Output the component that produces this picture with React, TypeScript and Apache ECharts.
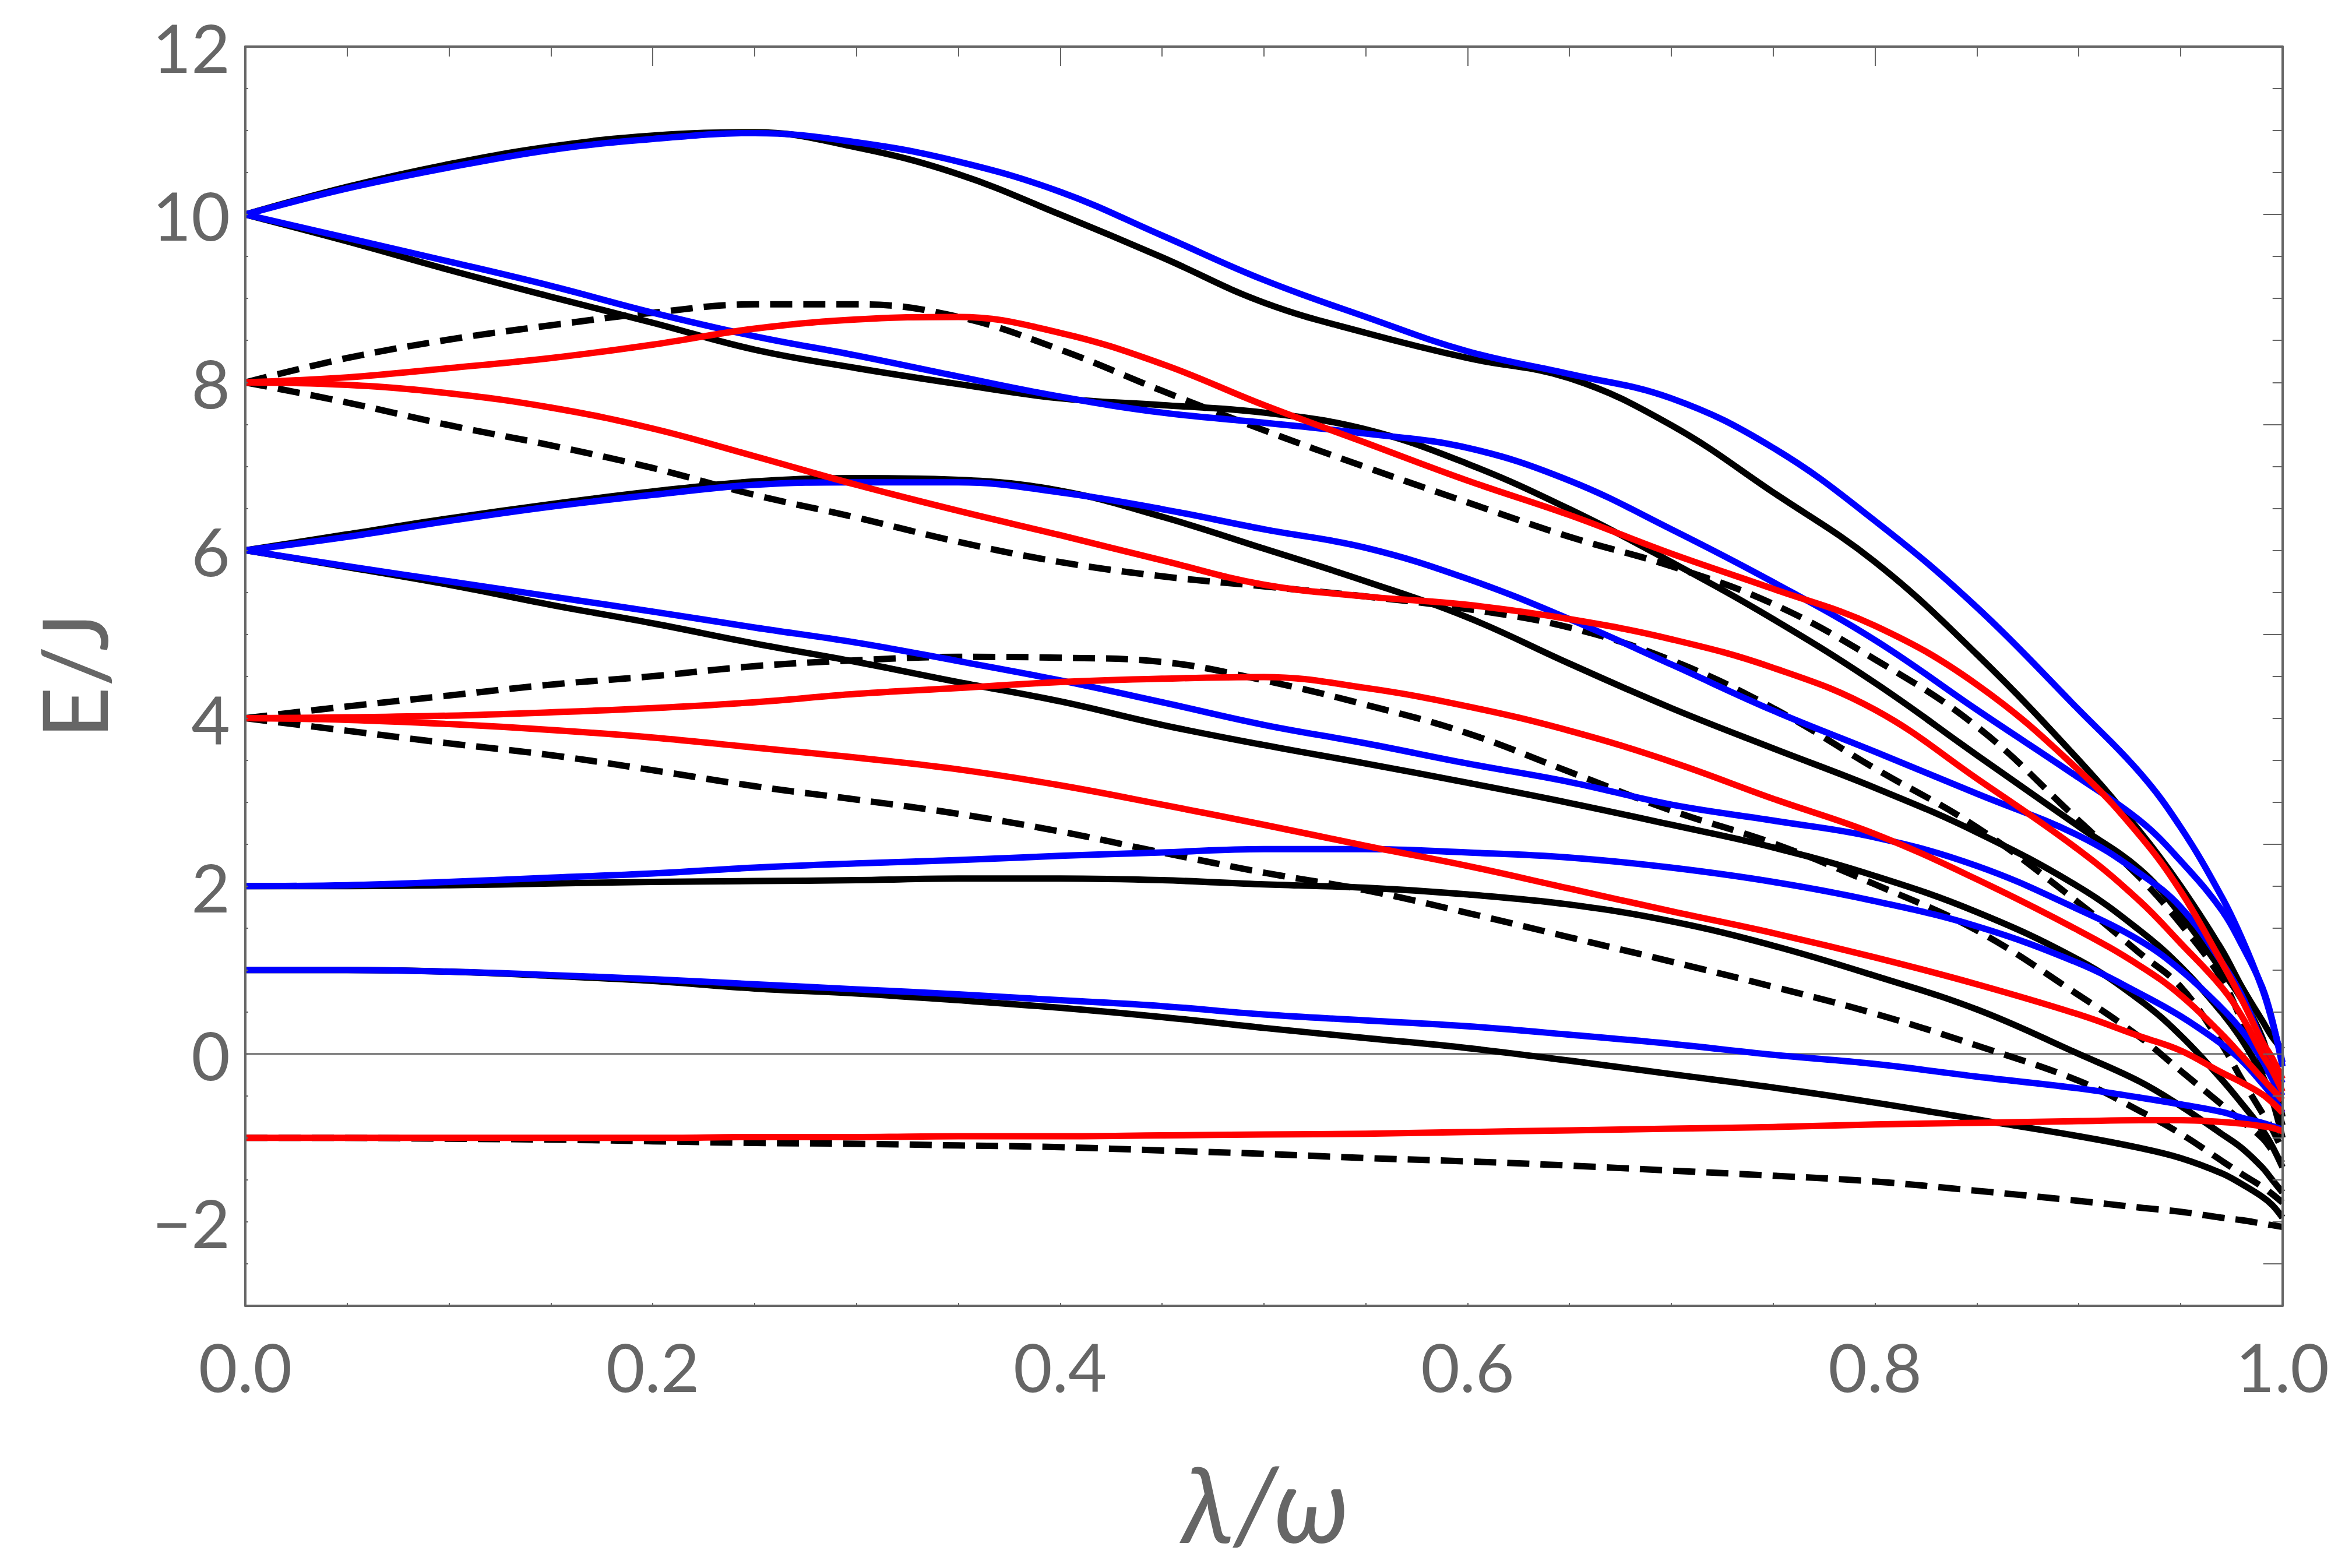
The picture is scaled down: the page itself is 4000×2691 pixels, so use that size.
import React, { useEffect, useRef } from "react";
import * as echarts from "echarts";

// λ/ω sample grid shared by every curve
const lambdaGrid = [0, 0.05, 0.1, 0.15, 0.2, 0.25, 0.3, 0.35, 0.4, 0.45, 0.5, 0.55, 0.6, 0.65, 0.7, 0.75, 0.8, 0.85, 0.9, 0.93, 0.95, 0.97, 0.98, 0.99, 0.995, 1.0];

// black solid levels
const black10u = [10, 10.33, 10.6, 10.81, 10.94, 10.98, 10.8, 10.48, 10.0, 9.49, 8.95, 8.59, 8.29, 8.05, 7.49, 6.69, 5.86, 4.76, 3.5, 2.65, 2.0, 1.25, 0.8, 0.4, 0.2, 0.05];
const black10d = [10, 9.68, 9.34, 9.02, 8.71, 8.39, 8.17, 7.98, 7.81, 7.73, 7.64, 7.44, 7.03, 6.49, 5.86, 5.18, 4.42, 3.56, 2.71, 2.2, 1.66, 1.0, 0.65, 0.2, -0.25, -0.75];
const black6u = [6, 6.19, 6.38, 6.55, 6.7, 6.82, 6.86, 6.84, 6.71, 6.4, 6.02, 5.63, 5.2, 4.65, 4.12, 3.64, 3.17, 2.64, 1.99, 1.47, 1.04, 0.5, 0.17, -0.25, -0.55, -1.0];
const black6d = [6, 5.8, 5.59, 5.35, 5.13, 4.89, 4.67, 4.43, 4.2, 3.92, 3.68, 3.46, 3.23, 2.99, 2.73, 2.46, 2.12, 1.69, 1.12, 0.64, 0.22, -0.3, -0.59, -0.9, -1.1, -1.35];
const black2 = [2, 2.0, 2.01, 2.03, 2.05, 2.06, 2.07, 2.09, 2.09, 2.07, 2.02, 1.98, 1.9, 1.78, 1.58, 1.29, 0.93, 0.53, 0.0, -0.33, -0.62, -0.95, -1.12, -1.35, -1.5, -1.65];
const black1 = [1, 1.0, 0.98, 0.93, 0.87, 0.78, 0.72, 0.64, 0.55, 0.44, 0.31, 0.19, 0.07, -0.08, -0.24, -0.4, -0.58, -0.78, -0.98, -1.12, -1.24, -1.42, -1.55, -1.7, -1.8, -1.95];

// black dashed levels
const dash8u = [8, 8.29, 8.51, 8.68, 8.83, 8.93, 8.93, 8.78, 8.39, 7.9, 7.43, 6.99, 6.57, 6.16, 5.81, 5.36, 4.7, 3.9, 2.78, 2.1, 1.55, 0.9, 0.4, -0.1, -0.45, -0.85];
const dash8d = [8, 7.76, 7.49, 7.25, 6.98, 6.66, 6.39, 6.1, 5.86, 5.69, 5.57, 5.45, 5.3, 5.08, 4.69, 4.12, 3.4, 2.7, 1.8, 1.2, 0.8, 0.12, -0.3, -0.7, -0.9, -1.15];
const dash4u = [4, 4.14, 4.27, 4.4, 4.5, 4.62, 4.69, 4.73, 4.72, 4.67, 4.45, 4.16, 3.82, 3.36, 2.9, 2.51, 2.02, 1.47, 0.7, 0.2, -0.2, -0.6, -0.8, -1.0, -1.15, -1.3];
const dash4d = [4, 3.85, 3.7, 3.56, 3.38, 3.19, 3.03, 2.86, 2.65, 2.4, 2.16, 1.95, 1.68, 1.39, 1.1, 0.8, 0.48, 0.1, -0.32, -0.68, -0.95, -1.27, -1.43, -1.58, -1.67, -1.77];
const dashM1 = [-1, -1.0, -1.01, -1.02, -1.04, -1.06, -1.07, -1.09, -1.11, -1.15, -1.19, -1.24, -1.28, -1.33, -1.39, -1.45, -1.52, -1.63, -1.75, -1.83, -1.88, -1.95, -1.98, -2.02, -2.04, -2.06];

// blue levels
const blue10u = [10, 10.31, 10.56, 10.77, 10.9, 10.97, 10.86, 10.63, 10.27, 9.75, 9.22, 8.78, 8.37, 8.1, 7.81, 7.22, 6.35, 5.32, 4.1, 3.35, 2.7, 1.88, 1.38, 0.78, 0.38, -0.1];
const blue10d = [10, 9.72, 9.44, 9.15, 8.83, 8.55, 8.32, 8.07, 7.83, 7.64, 7.52, 7.39, 7.22, 6.83, 6.25, 5.62, 4.93, 4.1, 3.29, 2.78, 2.3, 1.72, 1.3, 0.8, 0.4, -0.15];
const blue6u = [6, 6.16, 6.35, 6.52, 6.66, 6.78, 6.81, 6.81, 6.69, 6.49, 6.25, 6.03, 5.66, 5.18, 4.64, 4.09, 3.6, 3.1, 2.6, 2.15, 1.75, 1.1, 0.7, 0.15, -0.1, -0.35];
const blue6d = [6, 5.81, 5.63, 5.45, 5.27, 5.08, 4.9, 4.68, 4.45, 4.19, 3.92, 3.7, 3.46, 3.24, 2.97, 2.78, 2.58, 2.24, 1.72, 1.35, 1.0, 0.55, 0.28, -0.07, -0.3, -0.5];
const blue2 = [2, 2.01, 2.05, 2.1, 2.15, 2.22, 2.27, 2.31, 2.36, 2.4, 2.44, 2.44, 2.4, 2.34, 2.22, 2.05, 1.82, 1.52, 1.08, 0.72, 0.45, 0.12, -0.08, -0.35, -0.5, -0.7];
const blue1 = [1, 1.0, 0.98, 0.94, 0.89, 0.83, 0.77, 0.71, 0.64, 0.57, 0.47, 0.4, 0.33, 0.23, 0.12, -0.01, -0.12, -0.27, -0.41, -0.52, -0.6, -0.69, -0.76, -0.82, -0.86, -0.9];

// red levels
const red8u = [8, 8.06, 8.17, 8.29, 8.45, 8.64, 8.75, 8.78, 8.59, 8.22, 7.73, 7.28, 6.83, 6.42, 5.96, 5.54, 5.1, 4.4, 3.38, 2.6, 1.94, 1.1, 0.65, 0.15, -0.05, -0.3];
const red8d = [8, 7.97, 7.87, 7.7, 7.45, 7.12, 6.78, 6.47, 6.18, 5.88, 5.59, 5.45, 5.35, 5.18, 4.94, 4.6, 4.1, 3.28, 2.43, 1.82, 1.32, 0.8, 0.45, 0.0, -0.2, -0.45];
const red4u = [4, 4.01, 4.03, 4.07, 4.12, 4.19, 4.29, 4.36, 4.43, 4.47, 4.49, 4.36, 4.14, 3.85, 3.48, 3.04, 2.62, 2.08, 1.47, 1.05, 0.7, 0.24, -0.02, -0.29, -0.42, -0.55];
const red4d = [4, 3.98, 3.93, 3.86, 3.77, 3.65, 3.53, 3.39, 3.2, 2.97, 2.73, 2.48, 2.24, 1.97, 1.7, 1.44, 1.15, 0.83, 0.47, 0.21, 0.04, -0.22, -0.34, -0.48, -0.58, -0.7];
const redM1 = [-1, -1.0, -1.0, -1.0, -1.0, -0.99, -0.99, -0.98, -0.98, -0.97, -0.96, -0.95, -0.93, -0.91, -0.89, -0.87, -0.84, -0.82, -0.8, -0.79, -0.79, -0.81, -0.83, -0.86, -0.88, -0.92];

const blackSolidCurves = [black10u, black10d, black6u, black6d, black2, black1];
const blackDashedCurves = [dash8u, dash8d, dash4u, dash4d, dashM1];
const blueCurves = [blue10u, blue10d, blue6u, blue6d, blue2, blue1];
const redCurves = [red8u, red8d, red4u, red4d, redM1];

// axis ticks / labels
const yLabelValues = [-2, 0, 2, 4, 6, 8, 10, 12];
const rightMajorTicks = [-2.5, 0, 2.5, 5, 7.5, 10];
const zeroLine = [[0, 0], [1, 0]];

const GRAY = "#666666";
const FONT = "Lato";

function makeSeries(list: number[][], color: string, dashed: boolean) {
  return list.map((ys) => ({
    type: "line",
    data: lambdaGrid.map((x, i) => [x, ys[i]]),
    symbol: "none",
    showSymbol: false,
    smooth: 0.4,
    silent: true,
    clip: true,
    lineStyle: {
      color,
      width: 11,
      type: dashed ? [38, 19] : "solid",
      cap: "butt",
      join: "round",
    },
  }));
}

export default function App() {
  const ref = useRef<HTMLDivElement>(null);
  useEffect(() => {
    const chart = echarts.init(ref.current!, null, { renderer: "svg" });
    const tickStyle = { color: GRAY, width: 2 };
    const frameLine = { show: true, onZero: false, lineStyle: { color: GRAY, width: 4 } };
    const option: any = {
      animation: false,
      backgroundColor: "#ffffff",
      grid: { left: 421, top: 80, right: 79, bottom: 450, show: false },
      xAxis: [
        {
          type: "value", position: "bottom", min: 0, max: 1, interval: 0.2, z: 10,
          axisLine: frameLine,
          axisTick: { show: true, inside: true, length: 5, lineStyle: tickStyle },
          minorTick: { show: true, splitNumber: 4, length: 5, lineStyle: tickStyle },
          splitLine: { show: false },
          axisLabel: {
            color: GRAY, fontSize: 115, fontFamily: FONT, margin: 45,
            formatter: (v: number) => v.toFixed(1),
          },
        },
        {
          type: "value", position: "top", min: 0, max: 1, interval: 0.2, z: 10,
          axisLine: frameLine,
          axisTick: { show: true, inside: true, length: 33, lineStyle: tickStyle },
          minorTick: { show: true, splitNumber: 4, length: 17, lineStyle: tickStyle },
          splitLine: { show: false },
          axisLabel: { show: false },
        },
      ],
      yAxis: [
        {
          type: "value", position: "left", min: -3, max: 12, interval: 1, z: 10,
          axisLine: frameLine,
          axisTick: { show: true, inside: true, length: 5, lineStyle: tickStyle },
          minorTick: { show: true, splitNumber: 2, length: 5, lineStyle: tickStyle },
          splitLine: { show: false },
          axisLabel: {
            color: GRAY, fontSize: 115, fontFamily: FONT, margin: 26,
            customValues: yLabelValues,
            formatter: (v: number) =>
              Math.round(v) % 2 === 0 ? (v < 0 ? "\u2212" + Math.abs(v) : String(v)) : "",
          },
        },
        {
          type: "value", position: "right", min: -3, max: 12, interval: 0.5, z: 10,
          axisLine: frameLine,
          axisTick: { show: true, inside: true, length: 17, lineStyle: tickStyle },
          splitLine: { show: false },
          axisLabel: { show: false },
        },
        {
          type: "value", position: "right", min: -3, max: 12, z: 10,
          axisLine: { show: false, onZero: false },
          axisTick: { show: true, inside: true, length: 33, lineStyle: tickStyle, customValues: rightMajorTicks },
          splitLine: { show: false },
          axisLabel: { show: false },
        },
      ],
      series: [
        {
          type: "line",
          data: zeroLine,
          symbol: "none",
          silent: true,
          lineStyle: { color: "#707070", width: 3 },
        },
        ...makeSeries(blackSolidCurves, "#000000", false),
        ...makeSeries(blackDashedCurves, "#000000", true),
        ...makeSeries(blueCurves, "#0000ff", false),
        ...makeSeries(redCurves, "#ff0000", false),
      ],
      graphic: [
        {
          type: "text", x: 125, y: 1160, rotation: Math.PI / 2, silent: true,
          style: { text: "E/J", fontSize: 155, fontFamily: FONT, fill: GRAY, align: "center", verticalAlign: "middle" },
        },
        {
          type: "text", x: 2171, y: 2578, silent: true,
          style: { text: "\u03bb/\u03c9", fontSize: 180, fontStyle: "italic", fontFamily: FONT, fill: GRAY, align: "center", verticalAlign: "middle" },
        },
      ],
    };
    chart.setOption(option);
    return () => chart.dispose();
  }, []);
  return (
    <div
      ref={ref}
      style={{ position: "fixed", left: 0, top: 0, width: 4000, height: 2691, background: "#ffffff" }}
    />
  );
}
